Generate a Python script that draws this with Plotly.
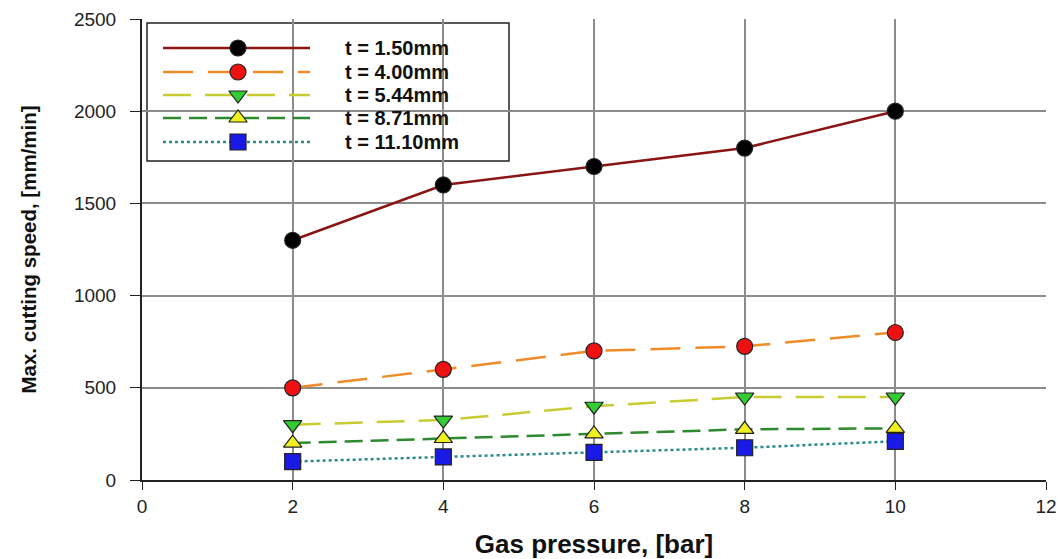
import plotly.graph_objects as go

pressure = [2, 4, 6, 8, 10]
labels = ["t = 1.50mm", "t = 4.00mm", "t = 5.44mm", "t = 8.71mm", "t = 11.10mm"]
s150 = [1300, 1600, 1700, 1800, 2000]
s400 = [500, 600, 700, 725, 800]
s544 = [300, 325, 400, 450, 450]
s871 = [200, 225, 250, 275, 280]
s1110 = [100, 125, 150, 175, 210]
series = [s150, s400, s544, s871, s1110]

line_colors = ["#8B1414", "#F08C28", "#C8CC30", "#2E8A2E", "#2A8A8A"]
dashes = ["solid", "30px,15px", "28px,14px", "18px,8px", "dot"]
symbols = ["circle", "circle", "triangle-down", "triangle-up", "square"]
fills = ["#000000", "#EE1111", "#33CC33", "#F0F020", "#1A1AE6"]
edge = "#222222"

fig = go.Figure()
for vals, lc, d, sy, fc, lab in zip(series, line_colors, dashes, symbols, fills, labels):
    fig.add_trace(go.Scatter(
        x=pressure, y=vals, mode="lines+markers", name=lab,
        line=dict(color=lc, width=2.5, dash=d),
        marker=dict(symbol=sy, size=16, color=fc, line=dict(color=edge, width=1.2)),
        showlegend=False, cliponaxis=False))

# custom legend (pixel-like overlay axis)
row_y = [48, 72, 95, 118, 142]
for i, (lc, d, sy, fc, lab) in enumerate(zip(line_colors, dashes, symbols, fills, labels)):
    fig.add_trace(go.Scatter(x=[163, 310], y=[row_y[i], row_y[i]], mode="lines",
                             line=dict(color=lc, width=2.5, dash=d),
                             xaxis="x2", yaxis="y2", showlegend=False, hoverinfo="skip"))
    fig.add_trace(go.Scatter(x=[238], y=[row_y[i]], mode="markers",
                             marker=dict(symbol=sy, size=16, color=fc, line=dict(color=edge, width=1.2)),
                             xaxis="x2", yaxis="y2", showlegend=False, hoverinfo="skip"))
    fig.add_annotation(x=343, y=row_y[i], xref="x2", yref="y2", text="<b>%s</b>" % lab,
                       showarrow=False, xanchor="left", yanchor="middle",
                       font=dict(family="Liberation Sans, Arial", size=20, color="#111111"))

fig.add_shape(type="rect", xref="x2", yref="y2", x0=147, x1=509, y0=23, y1=161,
              line=dict(color="#222222", width=1.5), fillcolor="white", layer="below")

fig.update_layout(
    width=1058, height=559,
    margin=dict(l=142, r=12, t=19, b=79),
    paper_bgcolor="white", plot_bgcolor="white",
    xaxis=dict(range=[0, 12], dtick=2, showgrid=True, gridcolor="#8C8C8C", gridwidth=1.5,
               showline=True, linecolor="#222222", linewidth=2, ticks="outside", ticklen=8,
               tickcolor="#222222", zeroline=False, ticklabelstandoff=0, automargin=False,
               tickfont=dict(family="Liberation Sans, Arial", size=19, color="#222222"),
               title=dict(text="<b>Gas pressure, [bar]</b>", standoff=19,
                          font=dict(family="Liberation Sans, Arial", size=26, color="#111111"))),
    yaxis=dict(range=[0, 2500], dtick=500, showgrid=True, gridcolor="#8C8C8C", gridwidth=1.5,
               showline=True, linecolor="#222222", linewidth=2, ticks="outside", ticklen=10,
               tickcolor="#222222", zeroline=False, ticklabelstandoff=10, automargin=False,
               tickfont=dict(family="Liberation Sans, Arial", size=19, color="#222222"),
               title=dict(text="<b>Max. cutting speed, [mm/min]</b>", standoff=32,
                          font=dict(family="Liberation Sans, Arial", size=20.5, color="#111111"))),
    xaxis2=dict(overlaying="x", range=[142, 1046], visible=False, fixedrange=True, automargin=False),
    yaxis2=dict(overlaying="y", range=[480, 19], visible=False, fixedrange=True, automargin=False),
)

fig.write_html("out.html", config={"displayModeBar": False},
               post_script="document.body.style.margin='0px';document.body.style.overflow='hidden';")
